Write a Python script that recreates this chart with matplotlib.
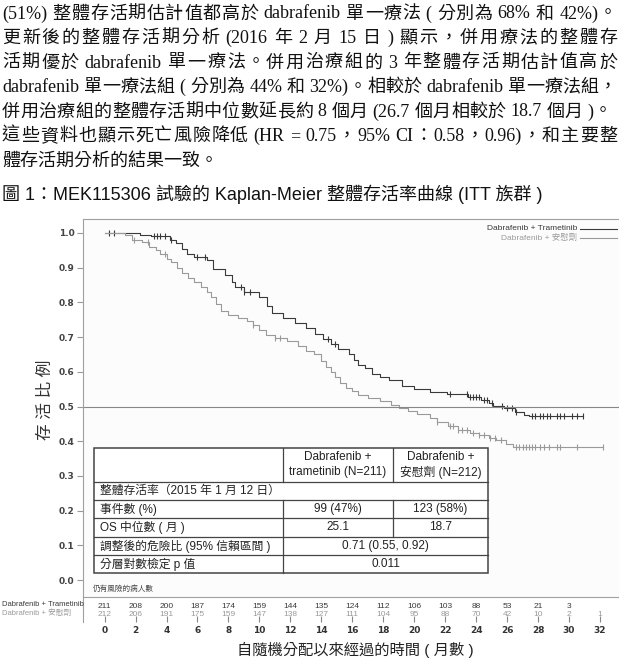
"""Document page excerpt with a Kaplan-Meier OS chart (MEK115306)."""
import re

import matplotlib
matplotlib.use("Agg")
import matplotlib.pyplot as plt
import numpy as np

W, H = 619, 664
SERIF = ["Liberation Serif", "Noto Sans CJK TC"]
SANS = ["Liberation Sans", "Noto Sans CJK TC"]

PARAGRAPH = [
    "(51%) 整體存活期估計值都高於 dabrafenib 單一療法 ( 分別為 68% 和 42%)。",
    "更新後的整體存活期分析 (2016 年 2 月 15 日 ) 顯示，併用療法的整體存",
    "活期優於 dabrafenib 單一療法。併用治療組的 3 年整體存活期估計值高於",
    "dabrafenib 單一療法組 ( 分別為 44% 和 32%)。相較於 dabrafenib 單一療法組，",
    "併用治療組的整體存活期中位數延長約 8 個月 (26.7 個月相較於 18.7 個月 )。",
    "這些資料也顯示死亡風險降低 (HR = 0.75，95% CI：0.58，0.96)，和主要整",
    "體存活期分析的結果一致。",
]
# right edge of each justified line (pixels); None = not justified
LINE_END = [617, 617, 617, 617, 612, 617, None]
FIG_TITLE = "圖 1：MEK115306 試驗的 Kaplan-Meier 整體存活率曲線 (ITT 族群 )"

ARMS = ["Dabrafenib + Trametinib", "Dabrafenib + 安慰劑"]

# Dabrafenib + Trametinib: step times (months) and survival
dt_t = [0, 2.3, 3.0, 4.2, 4.6, 5.0, 5.3, 5.8, 6.6, 7.0, 7.8, 8.2, 8.4, 9.0,
        10.0, 10.5, 10.8, 11.5, 12.3, 13.0, 13.6, 14.1, 14.6, 15.1, 15.8,
        16.1, 16.4, 16.8, 17.3, 17.8, 18.4, 19.2, 20.0, 21.0, 22.1, 23.5,
        24.3, 24.8, 25.1, 25.8, 26.5, 27.1, 27.4]
dt_s = [1.0, 0.995, 0.99, 0.98, 0.97, 0.955, 0.94, 0.93, 0.922, 0.895, 0.88,
        0.86, 0.845, 0.83, 0.815, 0.79, 0.77, 0.755, 0.74, 0.725, 0.71, 0.695,
        0.68, 0.665, 0.65, 0.635, 0.62, 0.61, 0.595, 0.585, 0.575, 0.56, 0.55,
        0.543, 0.535, 0.528, 0.52, 0.51, 0.502, 0.495, 0.485, 0.475, 0.472]
dt_end = 30.9
dt_cens = [0.3, 0.6, 3.2, 3.4, 3.6, 3.9, 4.3, 6.0, 6.5, 8.8, 9.0, 9.4, 14.4,
           14.9, 22.3, 23.4, 23.6, 23.8, 24.0, 24.2, 24.5, 24.7, 25.0, 25.7,
           26.0, 26.3, 26.6, 27.6, 27.8, 28.1, 28.3, 28.6, 28.8, 29.2, 29.4,
           29.7, 30.2, 30.5, 30.9]

# Dabrafenib + placebo
pl_t = [0, 1.3, 1.8, 2.4, 2.9, 3.3, 3.6, 4.0, 4.3, 4.7, 5.0, 5.4, 5.8, 6.2,
        6.6, 6.9, 7.2, 7.5, 8.0, 8.6, 9.2, 9.6, 10.0, 10.4, 11.0, 11.8, 12.5,
        13.0, 13.5, 14.0, 14.3, 14.6, 14.9, 15.2, 15.6, 16.0, 16.4, 17.0,
        17.8, 18.5, 19.0, 19.6, 20.2, 21.0, 21.5, 22.2, 22.8, 23.6, 24.2,
        24.8, 25.3, 25.9, 26.4]
pl_s = [1.0, 0.995, 0.98, 0.975, 0.96, 0.95, 0.94, 0.925, 0.915, 0.9, 0.885,
        0.87, 0.858, 0.845, 0.83, 0.815, 0.795, 0.775, 0.765, 0.755, 0.745,
        0.735, 0.72, 0.705, 0.698, 0.688, 0.675, 0.66, 0.65, 0.632, 0.615,
        0.6, 0.585, 0.568, 0.553, 0.545, 0.533, 0.525, 0.515, 0.505, 0.497,
        0.488, 0.478, 0.468, 0.455, 0.443, 0.432, 0.425, 0.418, 0.41, 0.403,
        0.393, 0.383]
pl_end = 32.2
pl_cens = [1.9, 2.8, 3.9, 9.6, 11.0, 11.3, 21.5, 22.3, 22.5, 22.8, 23.1,
           23.4, 23.8, 24.2, 24.5, 24.9, 25.2, 25.6, 26.6, 26.8, 27.0, 27.2,
           27.4, 27.6, 27.8, 28.1, 28.4, 28.7, 29.2, 29.4, 30.5, 32.2]

RISK_TIMES = list(range(0, 34, 2))
RISK_DT = [211, 208, 200, 187, 174, 159, 144, 135, 124, 112, 106, 103, 88,
           53, 21, 3, None]
RISK_PL = [212, 206, 191, 175, 159, 147, 138, 127, 111, 104, 95, 88, 70, 42,
           10, 2, 1]

TABLE_HEAD = ["Dabrafenib +\ntrametinib (N=211)", "Dabrafenib +\n安慰劑 (N=212)"]
TABLE_SECTION = "整體存活率（2015 年 1 月 12 日）"
TABLE_ROWS = ["事件數 (%)", "OS 中位數 ( 月 )", "調整後的危險比 (95% 信賴區間 )",
              "分層對數檢定 p 值"]
TABLE_VALS = [["99 (47%)", "123 (58%)"], ["25.1", "18.7"],
              ["0.71 (0.55, 0.92)"], ["0.011"]]

DARK, LIGHT = "#3a3a3a", "#9a9a9a"

# pixel geometry of the chart image
PX_M0, PX_PER_M = 104.6, 15.48
PX_Y1, PX_Y0 = 233, 580
AX_L, AX_R, AX_T, AX_B = 83, 622, 219, 597
RT_B = 622


def mx(px):
    return (px - PX_M0) / PX_PER_M


def sy(py):
    return (PX_Y0 - py) / (PX_Y0 - PX_Y1)


fig = plt.figure(figsize=(W / 100, H / 100), dpi=100)

# overlay in pixel coordinates for page text, inset table and labels
ov = fig.add_axes([0, 0, 1, 1], zorder=5)
ov.set_xlim(0, W)
ov.set_ylim(H, 0)
ov.axis("off")
ov.patch.set_alpha(0)
renderer = fig.canvas.get_renderer()
probe = ov.text(0, -100, "", family=SERIF, fontsize=13)


def text_w(s):
    probe.set_text(s + "|")
    w = probe.get_window_extent(renderer).width
    probe.set_text("|")
    return w - probe.get_window_extent(renderer).width


# page text, justified by spreading the slack over every glyph gap
para = dict(family=SERIF, fontsize=13, va="center", ha="left", color="#111")
for i, (line, end) in enumerate(zip(PARAGRAPH, LINE_END)):
    yc = 14 + 24.5 * i
    if end is None:
        ov.text(2, yc, line, **para)
        continue
    units = [(m.start(), m.group()) for m in
             re.finditer(r"[\x21-\x7e]+|[^\x00-\x7f]", line)]
    gap = (end - 2 - text_w(line)) / (len(units) - 1)
    for k, (pos, u) in enumerate(units):
        ov.text(2 + text_w(line[:pos]) + k * gap, yc, u, **para)
probe.remove()

ov.text(2, 194, FIG_TITLE, family=SANS, fontsize=13, va="center",
        ha="left", color="#111")

# KM axes
ax = fig.add_axes([AX_L / W, 1 - AX_B / H, (AX_R - AX_L) / W, (AX_B - AX_T) / H])
ax.set_facecolor("#fcfcfc")
ax.set_xlim(mx(AX_L), mx(AX_R))
ax.set_ylim(sy(AX_B), sy(AX_T))

for t, s, end, cens, col in [(dt_t, dt_s, dt_end, dt_cens, DARK),
                             (pl_t, pl_s, pl_end, pl_cens, LIGHT)]:
    tt = np.append(t, end)
    ss = np.append(s, s[-1])
    ax.step(tt, ss, where="post", color=col, lw=0.8)
    idx = np.searchsorted(t, cens, side="right") - 1
    ax.plot(cens, np.array(s)[idx], ls="none", marker="|", ms=5, mew=0.8,
            color=col)

ax.axhline(0.5, color="#888", lw=0.8)
ax.set_yticks(np.arange(0, 1.01, 0.1))
ax.set_yticklabels([f"{v:.1f}" for v in np.arange(0, 1.01, 0.1)])
ax.tick_params(axis="y", length=4, color="#999", labelsize=6.5,
               labelcolor="#444", pad=2)
for lab in ax.get_yticklabels():
    lab.set_fontweight("bold")
ax.set_xticks([])
for sp in ax.spines.values():
    sp.set_color("#a0a0a0")
    sp.set_linewidth(0.8)

# legend, drawn by hand to the right of the labels
for k, (name, col) in enumerate(zip(ARMS, [DARK, LIGHT])):
    yk = 1 - (229 + 9 * k - AX_T) / (AX_B - AX_T)
    ax.text((577 - AX_L) / (AX_R - AX_L), yk, name, transform=ax.transAxes,
            family=SANS, fontsize=6, color=col, ha="right", va="center")
    ax.plot([(580 - AX_L) / (AX_R - AX_L), (617 - AX_L) / (AX_R - AX_L)],
            [yk, yk], transform=ax.transAxes, color=col, lw=0.8)

# number at risk strip
ax2 = fig.add_axes([AX_L / W, 1 - RT_B / H, (AX_R - AX_L) / W, (RT_B - AX_B) / H])
ax2.set_xlim(ax.get_xlim())
ax2.set_ylim(0, 1)
ax2.patch.set_alpha(0)
for k in ["top", "right", "bottom"]:
    ax2.spines[k].set_visible(False)
ax2.spines["left"].set_color("#a0a0a0")
ax2.spines["left"].set_linewidth(0.8)
ax2.set_yticks([])
ax2.set_xticks(RISK_TIMES)
ax2.set_xticklabels([str(t) for t in RISK_TIMES])
ax2.tick_params(axis="x", direction="in", length=4, color="#888",
                labelsize=6.5, labelcolor="#333", pad=3)
for lab in ax2.get_xticklabels():
    lab.set_fontweight("bold")
for t, a, b in zip(RISK_TIMES, RISK_DT, RISK_PL):
    if a is not None:
        ax2.text(t, (RT_B - 607) / 25, str(a), ha="center", va="center",
                 fontsize=6, color=DARK, family=SANS)
    ax2.text(t, (RT_B - 615) / 25, str(b), ha="center", va="center",
             fontsize=6, color=LIGHT, family=SANS)
for k, (name, col) in enumerate(zip(ARMS, [DARK, LIGHT])):
    ov.text(2, 605 + 8 * k, name, family=SANS, fontsize=5.5,
            color=col, ha="left", va="center")

ov.text(93, 589, "仍有風險的病人數", family=SANS, fontsize=5.5, color="#444",
        va="center", ha="left")
ov.text(45, 400, "存 活 比 例", family=SANS, fontsize=12, color="#333",
        rotation=90, ha="center", va="center")
ov.text(355, 650, "自隨機分配以來經過的時間 ( 月數 )", family=SANS, fontsize=11,
        color="#222", ha="center", va="center")

TL, TC1, TC2, TR = 94, 283, 393, 488
ROWS_Y = [448, 482, 500, 518, 537, 555, 573]
LC, LW = "#444", 0.9
ov.add_patch(plt.Rectangle((TL, ROWS_Y[0]), TR - TL, ROWS_Y[-1] - ROWS_Y[0],
                           facecolor="white", edgecolor=LC, lw=1.1, zorder=3))
for y in ROWS_Y[1:-1]:
    ov.plot([TL, TR], [y, y], color=LC, lw=LW, zorder=4)
ov.plot([TC1, TC1], [ROWS_Y[0], ROWS_Y[1]], color=LC, lw=LW, zorder=4)
ov.plot([TC1, TC1], [ROWS_Y[2], ROWS_Y[-1]], color=LC, lw=LW, zorder=4)
ov.plot([TC2, TC2], [ROWS_Y[0], ROWS_Y[1]], color=LC, lw=LW, zorder=4)
ov.plot([TC2, TC2], [ROWS_Y[2], ROWS_Y[4]], color=LC, lw=LW, zorder=4)

txt = dict(family=SANS, fontsize=8.5, color="#222", va="center", zorder=5)
for head, cx in zip(TABLE_HEAD, [(TC1 + TC2) / 2, (TC2 + TR) / 2]):
    top, bot = head.split("\n")
    ov.text(cx, 457, top, ha="center", **txt)
    ov.text(cx, 472, bot, ha="center", **txt)
ov.text(TL + 6, (ROWS_Y[1] + ROWS_Y[2]) / 2, TABLE_SECTION, ha="left", **txt)
for i, (lab, vals) in enumerate(zip(TABLE_ROWS, TABLE_VALS)):
    yc = (ROWS_Y[i + 2] + ROWS_Y[i + 3]) / 2
    ov.text(TL + 6, yc, lab, ha="left", **txt)
    if len(vals) == 2:
        ov.text((TC1 + TC2) / 2, yc, vals[0], ha="center", **txt)
        ov.text((TC2 + TR) / 2, yc, vals[1], ha="center", **txt)
    else:
        ov.text((TC1 + TR) / 2, yc, vals[0], ha="center", **txt)

fig.savefig("out.png", dpi=100)
